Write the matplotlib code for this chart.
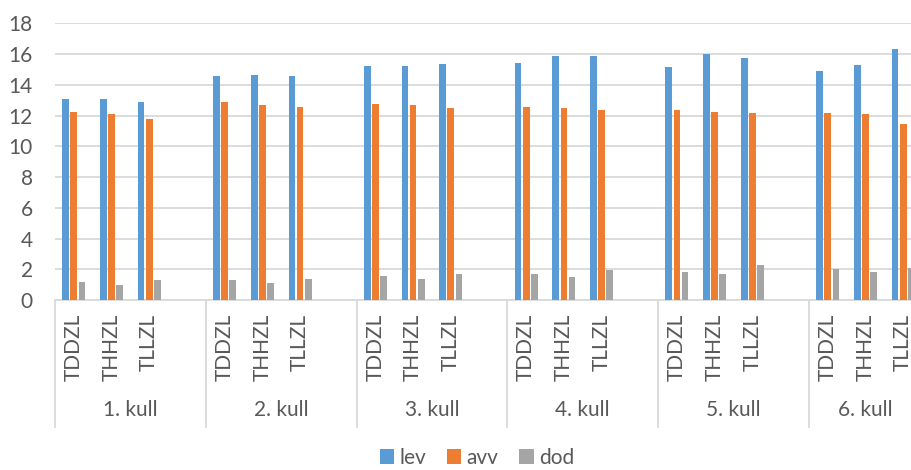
import numpy as np
import matplotlib
matplotlib.use("Agg")
import matplotlib.pyplot as plt
import matplotlib.transforms as mtransforms

plt.rcParams['font.family'] = ['Lato', 'DejaVu Sans']

# data
groups = ["1. kull", "2. kull", "3. kull", "4. kull", "5. kull", "6. kull"]
subcats = ["TDDZL", "THHZL", "TLLZL"]
lev = [13.05, 13.05, 12.85, 14.55, 14.65, 14.60, 15.22, 15.20, 15.35,
       15.40, 15.85, 15.85, 15.16, 15.98, 15.74, 14.88, 15.29, 16.35]
avv = [12.26, 12.10, 11.76, 12.91, 12.71, 12.58, 12.73, 12.66, 12.47,
       12.53, 12.47, 12.38, 12.39, 12.21, 12.19, 12.17, 12.10, 11.48]
dod = [1.17, 0.97, 1.32, 1.32, 1.08, 1.36, 1.56, 1.37, 1.69,
       1.69, 1.50, 1.93, 1.84, 1.69, 2.25, 1.99, 1.84, 2.06]

c_lev, c_avv, c_dod = "#5B9BD5", "#ED7D31", "#A5A5A5"
txt = "#595959"
grid = "#D9D9D9"

# each group takes 4 slots (last slot empty), last group only 3
x = np.array([4 * g + s for g in range(len(groups)) for s in range(len(subcats))])
n_slots = 4 * (len(groups) - 1) + 3

fig = plt.figure(figsize=(9.12, 4.70), dpi=100)
ax = fig.add_axes([55 / 912, 170 / 470, 867 / 912, 276.7 / 470])

w = 0.178
step = 0.216
ax.bar(x - step, lev, width=w, color=c_lev, label="lev", zorder=3)
ax.bar(x, avv, width=w, color=c_avv, label="avv", zorder=3)
ax.bar(x + step, dod, width=w, color=c_dod, label="dod", zorder=3)

ax.set_xlim(-0.5, n_slots - 0.5)
ax.set_ylim(0, 18)
ax.set_yticks(range(0, 19, 2))
ax.yaxis.grid(True, color=grid, linewidth=1.3, zorder=0)
ax.set_axisbelow(True)

for side in ["left", "right", "top"]:
    ax.spines[side].set_visible(False)
ax.spines["bottom"].set_color(grid)
ax.spines["bottom"].set_linewidth(1.3)

ax.set_xticks(x)
ax.set_xticklabels(subcats * len(groups), rotation=90)
ax.tick_params(axis="x", length=0, pad=10, labelsize=15, labelcolor=txt)
ax.tick_params(axis="y", length=0, pad=16, labelsize=15, labelcolor=txt)

trans = mtransforms.blended_transform_factory(ax.transData, ax.transAxes)
# group labels
for g, name in enumerate(groups):
    last = 4 * g + (2 if g == len(groups) - 1 else 3)
    cx = (4 * g - 0.5 + last + 0.5) / 2
    ax.text(cx, -0.397, name, transform=trans, ha="center", va="center",
            fontsize=15, color=txt)

# group separators
for b in list(np.arange(len(groups)) * 4 - 0.5) + [n_slots - 0.5]:
    ax.plot([b, b], [0, -0.459], transform=trans, color=grid,
            linewidth=1.3, clip_on=False)

fig.legend(loc="center", bbox_to_anchor=(0.523, 1 - 458 / 470), ncol=3,
           frameon=False, fontsize=15, handlelength=0.7, handleheight=0.7,
           handletextpad=0.25, columnspacing=1.0, borderpad=0,
           labelcolor=txt)

fig.savefig("out.png", dpi=100)
